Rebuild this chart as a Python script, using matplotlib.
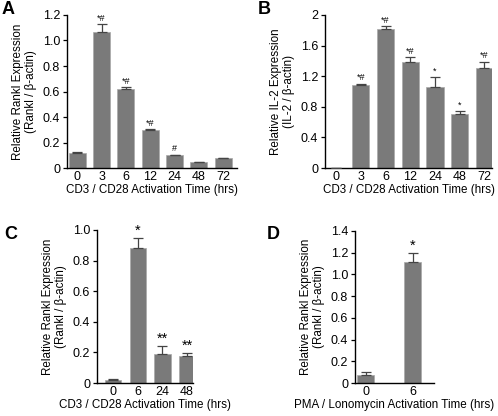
import numpy as np
import matplotlib
matplotlib.use("Agg")
import matplotlib.pyplot as plt

plt.rcParams['font.family'] = ['Liberation Sans', 'DejaVu Sans']

# panel A: Rankl, CD3/CD28
a_labels = ["0", "3", "6", "12", "24", "48", "72"]
a_vals = [0.12, 1.065, 0.62, 0.295, 0.10, 0.045, 0.075]
a_err = [0.003, 0.065, 0.015, 0.012, 0.005, 0.002, 0.002]
a_sig = ["", "*#", "*#", "*#", "#", "", ""]

# panel B: IL-2, CD3/CD28
b_labels = ["0", "3", "6", "12", "24", "48", "72"]
b_vals = [0.005, 1.09, 1.82, 1.38, 1.06, 0.71, 1.31]
b_err = [0.002, 0.01, 0.03, 0.07, 0.13, 0.03, 0.08]
b_sig = ["", "*#", "*#", "*#", "*", "*", "*#"]

# panel C: Rankl, CD3/CD28
c_labels = ["0", "6", "24", "48"]
c_vals = [0.02, 0.88, 0.19, 0.175]
c_err = [0.003, 0.07, 0.05, 0.02]
c_sig = ["", "*", "**", "**"]

# panel D: Rankl, PMA/Ionomycin
d_labels = ["0", "6"]
d_vals = [0.075, 1.11]
d_err = [0.025, 0.09]
d_sig = ["", "*"]

bar_color = "#7a7a7a"
fs = 8.4

fig = plt.figure(figsize=(4.98, 4.16), dpi=100)


def panel(rect, labels, vals, err, sig, width, xlim, ylim, yticks, yticklabels,
          ylabel, xlabel, sigsize, sigoff):
    ax = fig.add_axes(rect)
    x = np.arange(len(labels))
    ax.bar(x, vals, width=width, color=bar_color, edgecolor="#a8a8a8", linewidth=0.5, zorder=2)
    ax.errorbar(x, vals, yerr=[np.zeros(len(err)), err], fmt="none", ecolor="#444444",
                elinewidth=0.9, capsize=3.5, capthick=0.9, zorder=3)
    for xi, v, e, s in zip(x, vals, err, sig):
        if s:
            ax.text(xi, v + e + sigoff, s, ha="center", va="bottom", fontsize=sigsize)
    ax.set_xlim(*xlim)
    ax.set_ylim(*ylim)
    ax.set_xticks(x)
    ax.set_xticklabels(labels, fontsize=fs + 0.6)
    ax.set_yticks(yticks)
    ax.set_yticklabels(yticklabels, fontsize=fs + 0.6)
    ax.tick_params(axis="x", length=0, pad=2)
    ax.tick_params(axis="y", length=3, width=0.9, pad=2)
    for s in ["top", "right"]:
        ax.spines[s].set_visible(False)
    for s in ["left", "bottom"]:
        ax.spines[s].set_linewidth(1.0)
    ax.set_ylabel(ylabel, fontsize=fs, linespacing=1.1, labelpad=4)
    ax.set_xlabel(xlabel, fontsize=fs, labelpad=1)
    return ax


panel([0.1345, 0.596, 0.342, 0.368], a_labels, a_vals, a_err, a_sig, 0.7,
      (-0.42, 6.58), (0, 1.2), [0, 0.2, 0.4, 0.6, 0.8, 1.0, 1.2],
      ["0", "0.2", "0.4", "0.6", "0.8", "1.0", "1.2"],
      "Relative Rankl Expression\n(Rankl / β-actin)",
      "CD3 / CD28 Activation Time (hrs)", 6.5, 0.01)
fig.text(0.004, 0.997, "A", fontsize=13, fontweight="bold", va="top")

panel([0.6526, 0.596, 0.336, 0.368], b_labels, b_vals, b_err, b_sig, 0.7,
      (-0.45, 6.32), (0, 2.0), [0, 0.4, 0.8, 1.2, 1.6, 2.0],
      ["0", "0.4", "0.8", "1.2", "1.6", "2"],
      "Relative IL-2 Expression\n(IL-2 / β-actin)",
      "CD3 / CD28 Activation Time (hrs)", 6.5, 0.02)
fig.text(0.518, 0.997, "B", fontsize=13, fontweight="bold", va="top")

panel([0.195, 0.0793, 0.193, 0.368], c_labels, c_vals, c_err, c_sig, 0.66,
      (-0.65, 3.25), (0, 1.0), [0, 0.2, 0.4, 0.6, 0.8, 1.0],
      ["0", "0.2", "0.4", "0.6", "0.8", "1.0"],
      "Relative Rankl Expression\n(Rankl / β-actin)",
      "CD3 / CD28 Activation Time (hrs)", 10.5, 0.0)
fig.text(0.008, 0.457, "C", fontsize=13, fontweight="bold", va="top")

panel([0.713, 0.0793, 0.158, 0.366], d_labels, d_vals, d_err, d_sig, 0.36,
      (-0.23, 1.45), (0, 1.4), [0, 0.2, 0.4, 0.6, 0.8, 1.0, 1.2, 1.4],
      ["0", "0.2", "0.4", "0.6", "0.8", "1.0", "1.2", "1.4"],
      "Relative Rankl Expression\n(Rankl / β-actin)",
      "PMA / Lonomycin Activation Time (hrs)", 10.5, 0.0)
fig.text(0.535, 0.457, "D", fontsize=13, fontweight="bold", va="top")

fig.savefig("out.png", dpi=100)
